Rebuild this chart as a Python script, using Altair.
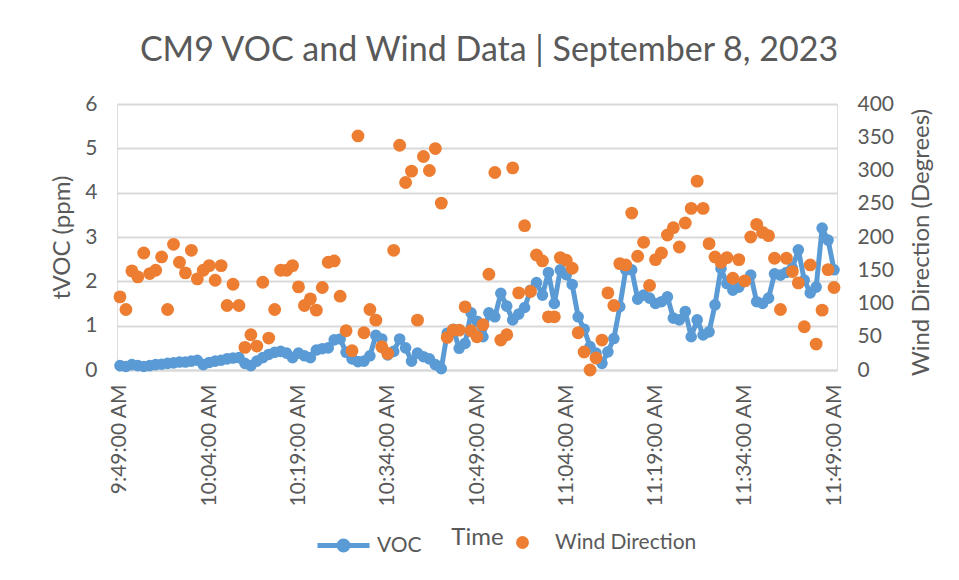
import altair as alt
import pandas as pd

TITLE = "CM9 VOC and Wind Data | September 8, 2023"
TICK_LABELS = ["9:49:00 AM", "10:04:00 AM", "10:19:00 AM", "10:34:00 AM", "10:49:00 AM",
               "11:04:00 AM", "11:19:00 AM", "11:34:00 AM", "11:49:00 AM"]
TICK_MINUTES = [0, 15, 30, 45, 60, 75, 90, 105, 120]

VOC = [0.10, 0.08, 0.12, 0.10, 0.08, 0.10, 0.12, 0.13, 0.15, 0.16,
       0.18, 0.18, 0.20, 0.22, 0.12, 0.17, 0.20, 0.22, 0.25, 0.27,
       0.28, 0.15, 0.10, 0.20, 0.28, 0.35, 0.40, 0.42, 0.38, 0.28,
       0.38, 0.32, 0.28, 0.45, 0.48, 0.50, 0.68, 0.70, 0.40, 0.25,
       0.19, 0.20, 0.32, 0.78, 0.70, 0.34, 0.42, 0.70, 0.50, 0.20,
       0.38, 0.30, 0.25, 0.12, 0.03, 0.83, 0.92, 0.49, 0.60, 1.29,
       1.10, 0.75, 1.29, 1.20, 1.73, 1.44, 1.13, 1.26, 1.41, 1.80,
       1.97, 1.69, 2.20, 1.50, 2.26, 2.15, 1.93, 1.20, 0.92, 0.53,
       0.38, 0.15, 0.41, 0.71, 1.43, 2.26, 2.26, 1.60, 1.69, 1.62,
       1.50, 1.54, 1.65, 1.17, 1.13, 1.32, 0.75, 1.13, 0.79, 0.86,
       1.47, 2.29, 1.95, 1.80, 1.87, 2.00, 2.14, 1.54, 1.50, 1.62,
       2.17, 2.14, 2.20, 2.30, 2.71, 2.03, 1.74, 1.87, 3.20, 2.93,
       2.26]

WIND = [110, 91, 149, 140, 176, 145, 150, 170, 91, 189,
        162, 146, 180, 137, 150, 157, 135, 157, 97, 129,
        97, 34, 53, 36, 132, 48, 91, 150, 150, 157,
        125, 97, 107, 90, 124, 162, 164, 111, 59, 29,
        352, 56, 91, 75, 35, 25, 180, 338, 282, 299,
        75, 321, 300, 333, 251, 49, 60, 60, 95, 59,
        50, 68, 144, 297, 45, 53, 304, 116, 217, 118,
        173, 164, 80, 80, 169, 165, 153, 56, 27, 0,
        18, 45, 116, 97, 160, 158, 236, 171, 192, 127,
        166, 176, 203, 214, 185, 221, 243, 284, 243, 190,
        170, 162, 169, 138, 166, 134, 200, 219, 207, 202,
        168, 91, 168, 148, 131, 65, 158, 39, 90, 151,
        124]

MINUTES = list(range(len(VOC)))  # one reading per minute from 9:49 AM

BLUE = "#5B9BD5"
ORANGE = "#ED7D31"
TXT = "#595959"
GRID = "#D9D9D9"
FONT = "Lato"

df = pd.DataFrame({"minute": MINUTES, "voc": VOC, "wind": WIND,
                   "s1": "VOC", "s2": "Wind Direction"})

label_expr = "[" + ",".join("'%s'" % t for t in TICK_LABELS) + "][round(datum.value/15)]"

x_enc = alt.X("minute:Q",
              scale=alt.Scale(domain=[-0.5, 120.5], nice=False, zero=False),
              axis=alt.Axis(values=TICK_MINUTES, labelExpr=label_expr, labelAngle=270,
                            title="Time", grid=False, domain=True, domainColor=GRID,
                            domainWidth=1.8, ticks=False, labelFont=FONT, labelFontSize=21,
                            labelColor=TXT, labelPadding=14, titleFont=FONT,
                            titleFontSize=24, titleColor=TXT, titleFontWeight="normal",
                            titleX=360, titleY=167, titleBaseline="middle",
                            titleAlign="center", labelOverlap=False))

left_axis = alt.Axis(values=[0, 1, 2, 3, 4, 5, 6], title="tVOC (ppm)", grid=True,
                     gridColor=GRID, gridWidth=1.8, domain=False, ticks=False,
                     labelPadding=20, labelFont=FONT, labelFontSize=21, labelColor=TXT,
                     titleFont=FONT, titleFontSize=24, titleColor=TXT,
                     titleFontWeight="normal", titleAngle=270, titleX=-55, titleY=133,
                     titleAlign="center", titleBaseline="middle")

right_axis = alt.Axis(orient="right", values=[0, 50, 100, 150, 200, 250, 300, 350, 400],
                      title="Wind Direction (Degrees)", grid=False, domain=False, ticks=False,
                      labelPadding=20, labelFont=FONT, labelFontSize=21, labelColor=TXT,
                      titleFont=FONT, titleFontSize=24, titleColor=TXT,
                      titleFontWeight="normal", titleAngle=270, titleX=84, titleY=138,
                      titleAlign="center", titleBaseline="middle")

y_voc = alt.Y("voc:Q", scale=alt.Scale(domain=[0, 6], nice=False), axis=left_axis)

voc_symbol = ("M-1,0H1 "
              "M0.17,0A0.17,0.17 0 1,1 -0.17,0A0.17,0.17 0 1,1 0.17,0 "
              "M0.05,0A0.05,0.05 0 1,1 -0.05,0A0.05,0.05 0 1,1 0.05,0")

base = alt.Chart(df)

line = base.mark_line(strokeWidth=5, strokeJoin="round").encode(
    x=x_enc,
    y=y_voc,
    stroke=alt.Stroke("s1:N", scale=alt.Scale(domain=["VOC"], range=[BLUE]),
                      legend=alt.Legend(title=None, orient="none", legendX=198, legendY=413,
                                        symbolType=voc_symbol, symbolSize=2704,
                                        symbolStrokeWidth=5, labelOffset=5,
                                        labelFont=FONT, labelFontSize=21, labelColor=TXT,
                                        padding=0)),
)

voc_pts = base.mark_circle(size=135, opacity=1, color=BLUE).encode(x=x_enc, y=y_voc)

wind_pts = base.mark_circle(size=165, opacity=1).encode(
    x=x_enc,
    y=alt.Y("wind:Q", scale=alt.Scale(domain=[0, 400], nice=False), axis=right_axis),
    fill=alt.Fill("s2:N", scale=alt.Scale(domain=["Wind Direction"], range=[ORANGE]),
                  legend=alt.Legend(title=None, orient="none", legendX=395, legendY=428,
                                    symbolType="circle", symbolSize=165, labelOffset=22,
                                    labelFont=FONT, labelFontSize=21, labelColor=TXT,
                                    padding=0)),
)

chart = alt.layer(alt.layer(line, voc_pts), wind_pts).resolve_scale(
    y="independent", stroke="independent", fill="independent"
).properties(
    width=720, height=266,
    title=alt.TitleParams(TITLE, font=FONT, fontSize=34, color=TXT, fontWeight="normal",
                          anchor="middle", offset=25, dx=12),
    padding={"left": 109, "top": 96, "right": 110, "bottom": 196},
    autosize=alt.AutoSizeParams(type="none"),
).configure_view(stroke=None).configure(font=FONT)

chart.save("out.html", embed_options={"renderer": "svg", "actions": False})
